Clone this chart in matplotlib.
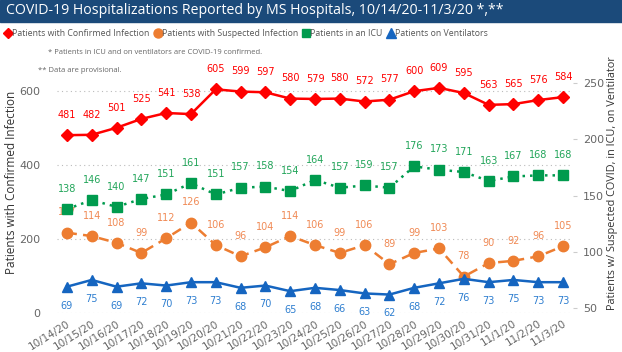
import matplotlib.pyplot as plt
from matplotlib.lines import Line2D
from matplotlib.patches import Rectangle

# Data
dates = ['10/14/20', '10/15/20', '10/16/20', '10/17/20', '10/18/20', '10/19/20', '10/20/20',
         '10/21/20', '10/22/20', '10/23/20', '10/24/20', '10/25/20', '10/26/20', '10/27/20',
         '10/28/20', '10/29/20', '10/30/20', '10/31/20', '11/1/20', '11/2/20', '11/3/20']
confirmed = [481, 482, 501, 525, 541, 538, 605, 599, 597, 580, 579, 580, 572, 577,
             600, 609, 595, 563, 565, 576, 584]
suspected = [117, 114, 108, 99, 112, 126, 106, 96, 104, 114, 106, 99, 106, 89,
             99, 103, 78, 90, 92, 96, 105]
icu = [138, 146, 140, 147, 151, 161, 151, 157, 158, 154, 164, 157, 159, 157,
       176, 173, 171, 163, 167, 168, 168]
vent = [69, 75, 69, 72, 70, 73, 73, 68, 70, 65, 68, 66, 63, 62,
        68, 72, 76, 73, 75, 73, 73]

RED = '#FF0000'
ORANGE = '#ED7D31'
GREEN = '#009B4E'
BLUE = '#1565C0'
GRAY = '#666666'
SANS = ['Open Sans', 'DejaVu Sans']

plt.rcParams['font.family'] = ['Liberation Sans Narrow', 'DejaVu Sans']

fig = plt.figure(figsize=(6.22, 3.52), dpi=100)
W, H = 622, 352

# title bar
fig.patches.append(Rectangle((0, 1 - 22 / H), 1, 22 / H, transform=fig.transFigure,
                             color='#1B4A7A', zorder=0))
fig.text(6 / W, 1 - 11 / H, 'COVID-19 Hospitalizations Reported by MS Hospitals, 10/14/20-11/3/20 *,**',
         color='white', fontsize=10.2, va='center', ha='left', family=SANS)

ax = fig.add_axes([57 / W, (H - 313) / H, 516 / W, 244 / H])
ax2 = ax.twinx()
x = list(range(len(dates)))

ax.plot(x, confirmed, color=RED, lw=1.8, marker='D', ms=6.5, zorder=5)
ax2.plot(x, suspected, color=ORANGE, lw=1.8, ls=(0, (4, 2.5)), marker='o', ms=7.5, zorder=5)
ax2.plot(x, icu, color=GREEN, lw=1.8, ls=(0, (1, 2)), marker='s', ms=6.5, zorder=5)
ax2.plot(x, vent, color=BLUE, lw=1.8, marker='^', ms=7, zorder=5)

lab = dict(ha='center', fontsize=7, textcoords='offset points')
for i in x:
    ax.annotate(str(confirmed[i]), (i, confirmed[i]), xytext=(0, 11), color=RED, va='bottom', **lab)
    ax2.annotate(str(suspected[i]), (i, suspected[i]), xytext=(0, 11), color='#F08A55', va='bottom', **lab)
    ax2.annotate(str(icu[i]), (i, icu[i]), xytext=(0, 11), color='#22A55A', va='bottom', **lab)
    ax2.annotate(str(vent[i]), (i, vent[i]), xytext=(0, -10), color='#2F7FD0', va='top', **lab)

ax.set_xlim(-0.4, 20.4)
ax.set_ylim(0, 660)
ax2.set_ylim(45.6, 262.6)
ax.set_yticks([0, 200, 400, 600])
ax2.set_yticks([50, 100, 150, 200, 250])
ax.set_xticks(x)
ax.set_xticklabels(dates, rotation=32, ha='right', rotation_mode='anchor', fontsize=7.5, color=GRAY)
ax.grid(axis='y', color='#BBBBBB', ls=(0, (1, 3)), lw=0.8)
for a in (ax, ax2):
    for s in a.spines.values():
        s.set_visible(False)
ax.tick_params(axis='x', length=0, pad=4)
ax.tick_params(axis='y', length=0, labelsize=8, labelcolor=GRAY, pad=12)
ax2.tick_params(axis='y', length=3, color='#CCCCCC', labelsize=8, labelcolor=GRAY, pad=4)

fig.text(12 / W, 1 - 182 / H, 'Patients with Confirmed Infection', rotation=90, ha='center', va='center',
         fontsize=8.5, color='#333333', family=SANS)
fig.text(612 / W, 1 - 183 / H, 'Patients w/ Suspected COVID, in ICU, on Ventilator', rotation=90,
         ha='center', va='center', fontsize=7.8, color='#333333', family=SANS)

handles = [
    Line2D([], [], color=RED, marker='D', ls='none', ms=5.5),
    Line2D([], [], color=ORANGE, marker='o', ls='none', ms=6.5),
    Line2D([], [], color=GREEN, marker='s', ls='none', ms=6),
    Line2D([], [], color=BLUE, marker='^', ls='none', ms=6.5),
]
names = ['Patients with Confirmed Infection', 'Patients with Suspected Infection',
         'Patients in an ICU', 'Patients on Ventilators']
fig.legend(handles, names, loc='center left', bbox_to_anchor=(0, 1 - 34 / H), ncol=4, frameon=False,
           handletextpad=0.0, columnspacing=0.4, handlelength=1, borderaxespad=0,
           labelcolor='#555555', prop={'family': SANS, 'size': 6.3})

fig.text(48 / W, 1 - 53 / H, '* Patients in ICU and on ventilators are COVID-19 confirmed.',
         fontsize=5.5, color='#666666', va='center', family=SANS)
fig.text(38 / W, 1 - 71 / H, '** Data are provisional.',
         fontsize=5.5, color='#666666', va='center', family=SANS)

fig.savefig('out.png', dpi=100)
